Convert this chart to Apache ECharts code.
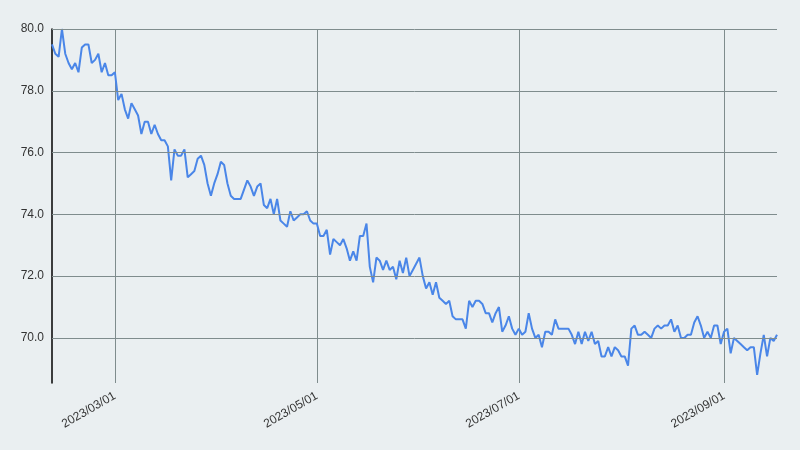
<!DOCTYPE html>
<html><head><meta charset="utf-8">
<script src="https://cdn.jsdelivr.net/npm/echarts@6/dist/echarts.min.js"></script>
<style>html,body{margin:0;padding:0;background:#eaeff1}#c{width:800px;height:450px}</style>
</head><body><div id="c"></div>
<script>
const startDate = '2023-02-10';
const values = [79.5,79.2,79.1,80.0,79.2,78.9,78.7,78.9,78.6,79.4,79.5,79.5,78.9,79.0,79.2,78.6,78.9,78.5,78.5,78.6,
77.7,77.9,77.4,77.1,77.6,77.4,77.2,76.6,77.0,77.0,76.6,76.9,76.6,76.4,76.4,76.2,75.1,76.1,75.9,75.9,
76.1,75.2,75.3,75.4,75.8,75.9,75.6,75.0,74.6,75.0,75.3,75.7,75.6,75.0,74.6,74.5,74.5,74.5,74.8,75.1,
74.9,74.6,74.9,75.0,74.3,74.2,74.5,74.0,74.5,73.8,73.7,73.6,74.1,73.8,73.9,74.0,74.0,74.1,73.8,73.7,
73.7,73.3,73.3,73.5,72.7,73.2,73.1,73.0,73.2,72.9,72.5,72.8,72.5,73.3,73.3,73.7,72.3,71.8,72.6,72.5,
72.2,72.5,72.2,72.3,71.9,72.5,72.1,72.6,72.0,72.2,72.4,72.6,72.0,71.6,71.8,71.4,71.8,71.3,71.2,71.1,
71.2,70.7,70.6,70.6,70.6,70.3,71.2,71.0,71.2,71.2,71.1,70.8,70.8,70.5,70.8,71.0,70.2,70.4,70.7,70.3,
70.1,70.3,70.1,70.2,70.8,70.3,70.0,70.1,69.7,70.2,70.2,70.1,70.6,70.3,70.3,70.3,70.3,70.1,69.8,70.2,
69.8,70.2,69.9,70.2,69.8,69.9,69.4,69.4,69.7,69.4,69.7,69.6,69.4,69.4,69.1,70.3,70.4,70.1,70.1,70.2,
70.1,70.0,70.3,70.4,70.3,70.4,70.4,70.6,70.2,70.4,70.0,70.0,70.1,70.1,70.5,70.7,70.4,70.0,70.2,70.0,
70.4,70.4,69.8,70.2,70.3,69.5,70.0,69.9,69.8,69.7,69.6,69.7,69.7,68.8,69.5,70.1,69.4,70.0,69.9,70.1];
const yTicks = [70,72,74,76,78,80];
const xTickLabels = ['2023/03/01','2023/05/01','2023/07/01','2023/09/01'];

const dates = [];
const d0 = new Date(startDate + 'T00:00:00Z');
for (let i = 0; i < values.length; i++) {
  const d = new Date(d0.getTime() + i * 86400000);
  dates.push(d.getUTCFullYear() + '/' + String(d.getUTCMonth()+1).padStart(2,'0') + '/' + String(d.getUTCDate()).padStart(2,'0'));
}
const isTick = (i, v) => xTickLabels.includes(v);
const chart = echarts.init(document.getElementById('c'));
chart.setOption({
  backgroundColor: '#eaeff1',
  animation: false,
  grid: {left: 52, right: 23, top: 29, bottom: 67},
  xAxis: {
    type: 'category', data: dates, boundaryGap: false,
    axisLine: {show: false}, axisTick: {show: false},
    axisLabel: {interval: isTick, rotate: 30, color: '#333', fontSize: 12, fontFamily: 'Liberation Sans', margin: 12},
    splitLine: {show: true, interval: isTick, lineStyle: {color: '#7f8c8d', width: 1}}
  },
  yAxis: {
    type: 'value', min: 68.54, max: 80,
    axisLine: {show: true, lineStyle: {color: '#000', width: 1.5}},
    axisTick: {show: false},
    splitLine: {show: false},
    axisLabel: {customValues: yTicks, formatter: v => v.toFixed(1), color: '#333', fontSize: 12, fontFamily: 'Liberation Sans'}
  },
  series: [{
    type: 'line', data: values, showSymbol: false,
    lineStyle: {color: '#4a86e8', width: 2}, itemStyle: {color: '#4a86e8'},
    markLine: {silent: true, symbol: 'none', label: {show: false},
      lineStyle: {color: '#7f8c8d', type: 'solid', width: 1},
      data: yTicks.map(v => ({yAxis: v}))}
  }]
});
</script></body></html>
